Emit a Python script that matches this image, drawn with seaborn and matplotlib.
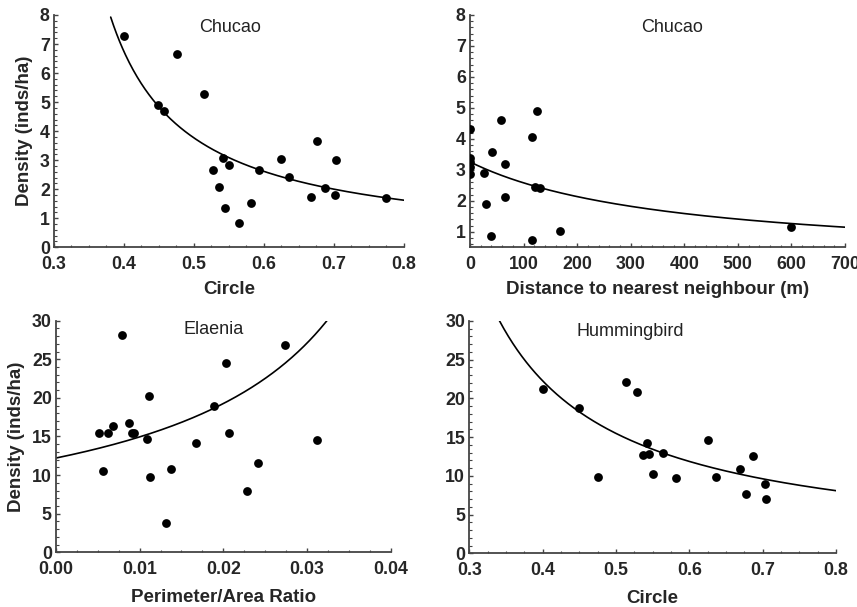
import numpy as np
import pandas as pd
import matplotlib
matplotlib.use("Agg")
import matplotlib.pyplot as plt
from matplotlib.ticker import AutoMinorLocator, FormatStrFormatter
import seaborn as sns

sns.set_style("white")
plt.rcParams['font.family'] = ['Liberation Sans', 'DejaVu Sans']

# ---- Data ----
# Panel A: Chucao density vs circle index
chucao_circle_x = [0.400, 0.476, 0.448, 0.457, 0.514, 0.542, 0.527, 0.550, 0.536, 0.545,
                   0.564, 0.582, 0.593, 0.624, 0.636, 0.676, 0.703, 0.667, 0.687, 0.702, 0.774]
chucao_circle_y = [7.26, 6.65, 4.89, 4.68, 5.29, 3.09, 2.65, 2.84, 2.09, 1.35,
                   0.82, 1.54, 2.66, 3.05, 2.43, 3.65, 3.00, 1.72, 2.03, 1.81, 1.69]
# fitted curve: 1/y = a + b*x
chucao_circle_fit = (-0.320, 1.171)
chucao_circle_fit_range = (0.381, 0.80)

# Panel B: Chucao density vs distance to nearest neighbour
chucao_dist_x = [0, 0, 0, 0, 0, 41, 58, 66, 27, 29, 66, 40, 116, 126, 122, 131, 116, 168, 599]
chucao_dist_y = [4.33, 3.38, 3.25, 3.10, 2.88, 3.59, 4.61, 3.19, 2.91, 1.90, 2.12, 0.87,
                 4.07, 4.89, 2.45, 2.43, 0.74, 1.04, 1.15]
chucao_dist_fit = (0.307, 0.000805)
chucao_dist_fit_range = (0, 700)

# Panel C: Elaenia density vs perimeter/area ratio
elaenia_x = [0.00514, 0.00625, 0.00685, 0.00793, 0.00566, 0.00876, 0.00904, 0.00936, 0.01084,
             0.01108, 0.01120, 0.01370, 0.01319, 0.01677, 0.01884, 0.02032, 0.02064, 0.02287,
             0.02418, 0.02737, 0.03116]
elaenia_y = [15.4, 15.4, 16.4, 28.2, 10.5, 16.8, 15.4, 15.4, 14.7,
             20.2, 9.8, 10.8, 3.8, 14.1, 19.0, 24.5, 15.5, 8.0,
             11.6, 26.8, 14.5]
elaenia_fit = (0.0819, -1.50)
elaenia_fit_range = (0.0, 0.0328)

# Panel D: Hummingbird density vs circle index
humm_x = [0.400, 0.449, 0.476, 0.514, 0.529, 0.542, 0.537, 0.545, 0.551, 0.564, 0.582,
          0.625, 0.637, 0.669, 0.677, 0.687, 0.703, 0.705]
humm_y = [21.2, 18.7, 9.9, 22.1, 20.8, 14.3, 12.7, 12.8, 10.3, 12.9, 9.7,
          14.6, 9.9, 10.9, 7.6, 12.5, 9.0, 7.0]
humm_fit = (-0.0339, 0.197)
humm_fit_range = (0.341, 0.80)

fig = plt.figure(figsize=(8.57, 6.07), dpi=100)

axes_pos = [
    [0.0630, 0.5926, 0.4084, 0.3827],
    [0.5484, 0.5926, 0.4376, 0.3827],
    [0.0653, 0.0901, 0.3906, 0.3816],
    [0.5476, 0.0885, 0.4279, 0.3827],
]

panels = [
    dict(x=chucao_circle_x, y=chucao_circle_y, fit=chucao_circle_fit, rng=chucao_circle_fit_range,
         xlim=(0.3, 0.8), ylim=(0, 8), xticks=np.arange(0.3, 0.81, 0.1), yticks=range(0, 9),
         xfmt='%.1f', xlabel='Circle', ylabel='Density (inds/ha)', title='Chucao', tpos=(0.503, 0.945),
         xminor=4, yminor=5, xlpad=6),
    dict(x=chucao_dist_x, y=chucao_dist_y, fit=chucao_dist_fit, rng=chucao_dist_fit_range,
         xlim=(0, 700), ylim=(0.5, 8), xticks=range(0, 701, 100), yticks=range(1, 9),
         xfmt='%d', xlabel='Distance to nearest neighbour (m)', ylabel='', title='Chucao', tpos=(0.54, 0.945),
         xminor=5, yminor=5, xlpad=6),
    dict(x=elaenia_x, y=elaenia_y, fit=elaenia_fit, rng=elaenia_fit_range,
         xlim=(0, 0.04), ylim=(0, 30), xticks=np.arange(0, 0.0401, 0.01), yticks=range(0, 31, 5),
         xfmt='%.2f', xlabel='Perimeter/Area Ratio', ylabel='Density (inds/ha)', title='Elaenia',
         tpos=(0.47, 0.96), xminor=4, yminor=5, xlpad=8),
    dict(x=humm_x, y=humm_y, fit=humm_fit, rng=humm_fit_range,
         xlim=(0.3, 0.8), ylim=(0, 30), xticks=np.arange(0.3, 0.81, 0.1), yticks=range(0, 31, 5),
         xfmt='%.1f', xlabel='Circle', ylabel='', title='Hummingbird', tpos=(0.44, 0.955),
         xminor=4, yminor=5, xlpad=8),
]

for pos, p in zip(axes_pos, panels):
    ax = fig.add_axes(pos)
    df = pd.DataFrame({'x': p['x'], 'y': p['y']})
    xs = np.linspace(p['rng'][0], p['rng'][1], 300)
    a, b = p['fit']
    fit_df = pd.DataFrame({'x': xs, 'y': 1.0 / (a + b * xs)})
    sns.lineplot(data=fit_df, x='x', y='y', ax=ax, color='black', linewidth=1.2)
    sns.scatterplot(data=df, x='x', y='y', ax=ax, color='black', s=40, edgecolor='black',
                    linewidth=0, zorder=3)
    ax.set_xlim(*p['xlim'])
    ax.set_ylim(*p['ylim'])
    ax.set_xticks(list(p['xticks']))
    ax.set_yticks(list(p['yticks']))
    ax.xaxis.set_major_formatter(FormatStrFormatter(p['xfmt']))
    ax.xaxis.set_minor_locator(AutoMinorLocator(p['xminor']))
    ax.yaxis.set_minor_locator(AutoMinorLocator(p['yminor']))
    ax.tick_params(which='major', direction='in', length=3, width=1, color='#444444',
                   labelsize=12.8)
    ax.tick_params(axis='x', which='major', pad=6)
    ax.tick_params(axis='y', which='major', pad=3)
    ax.tick_params(which='minor', direction='in', length=1.8, width=0.8, color='#444444')
    ax.tick_params(axis='both', which='both', top=False, right=False, left=True, bottom=True)
    for lab in ax.get_xticklabels() + ax.get_yticklabels():
        lab.set_fontweight('bold')
    for s in ['top', 'right']:
        ax.spines[s].set_visible(False)
    for s in ['left', 'bottom']:
        ax.spines[s].set_color('#444444')
        ax.spines[s].set_linewidth(1.3)
    ax.set_xlabel(p['xlabel'], fontsize=13.5, fontweight='bold', labelpad=p['xlpad'])
    ax.set_ylabel(p['ylabel'], fontsize=13.5, fontweight='bold', labelpad=5)
    ax.text(p['tpos'][0], p['tpos'][1], p['title'], transform=ax.transAxes, ha='center', va='center',
            fontsize=13, color='#222222')
    ax.set_facecolor('white')

fig.savefig('out.png', dpi=100, facecolor='white')
